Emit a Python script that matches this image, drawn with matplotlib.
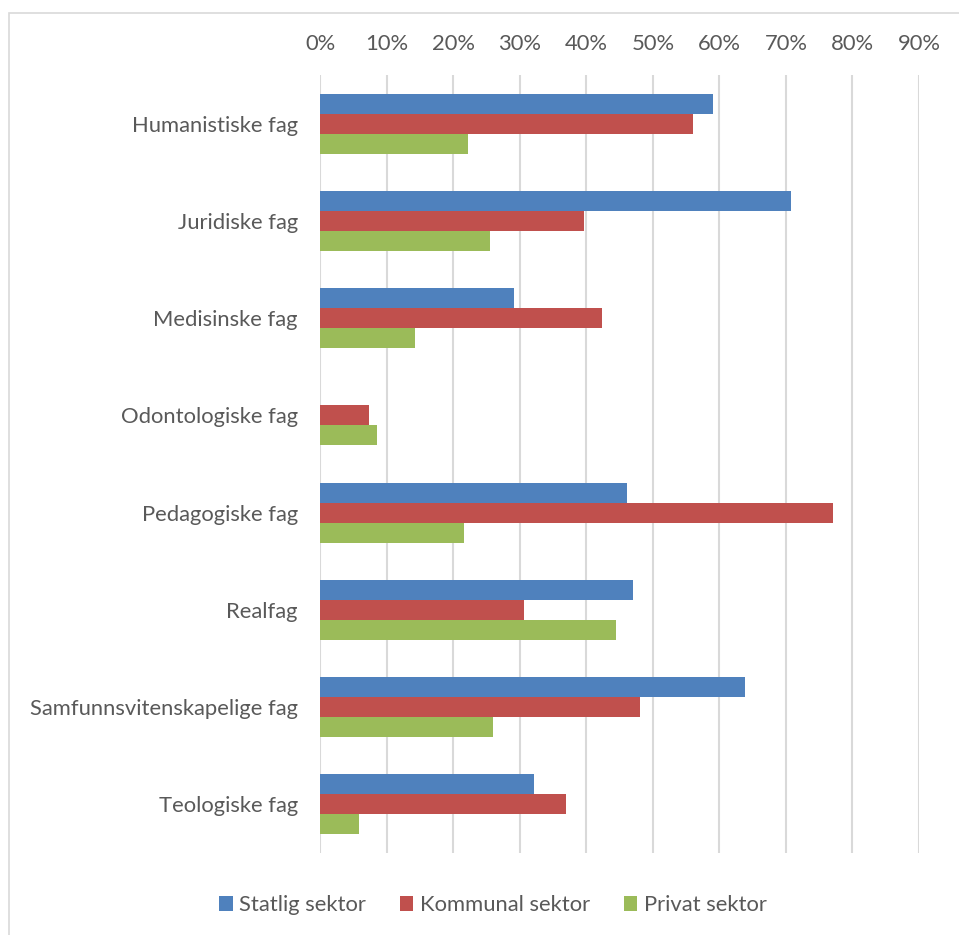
import numpy as np
import matplotlib
matplotlib.use("Agg")
import matplotlib.pyplot as plt
from matplotlib.patches import Patch, Rectangle
from matplotlib.ticker import PercentFormatter

# Andel per fagområde og sektor
CATEGORIES = ["Humanistiske fag", "Juridiske fag", "Medisinske fag",
              "Odontologiske fag", "Pedagogiske fag", "Realfag",
              "Samfunnsvitenskapelige fag", "Teologiske fag"]
STATLIG = [0.591, 0.708, 0.292, 0.0, 0.461, 0.471, 0.639, 0.322]
KOMMUNAL = [0.560, 0.396, 0.423, 0.073, 0.771, 0.307, 0.481, 0.369]
PRIVAT = [0.223, 0.256, 0.143, 0.085, 0.217, 0.444, 0.260, 0.058]
SERIES = ["Statlig sektor", "Kommunal sektor", "Privat sektor"]
COLORS = ["#4F81BD", "#C0504D", "#9BBB59"]

TEXT_COLOR = "#595959"
GRID_COLOR = "#D9D9D9"
FIGSIZE = (9.59, 9.35)
FS = 15.8

plt.rcParams["font.family"] = ["Lato", "DejaVu Sans"]

fig = plt.figure(figsize=FIGSIZE, dpi=100)
W, H = 959, 935
ax = fig.add_axes([320 / W, 1 - 853 / H, (919 - 320) / W, (853 - 75) / H])

# chart frame (top and left edges visible)
fig.patches.append(Rectangle((9 / W, -0.1), 1.2, 1 - 13 / H + 0.1,
                             transform=fig.transFigure, fill=False,
                             edgecolor=GRID_COLOR, linewidth=1.2))

y = np.arange(len(CATEGORIES))
h = 0.206
for i, (vals, col) in enumerate(zip([STATLIG, KOMMUNAL, PRIVAT], COLORS)):
    ax.barh(y + (i - 1) * h, vals, height=h, color=col, zorder=3)

ax.set_xlim(0, 0.9)
ax.set_ylim(len(CATEGORIES) - 0.5, -0.5)
ax.set_xticks(np.arange(0, 0.91, 0.1))
ax.xaxis.set_major_formatter(PercentFormatter(1.0, decimals=0))
ax.xaxis.tick_top()
ax.set_yticks(y)
ax.set_yticklabels(CATEGORIES)
ax.tick_params(axis="x", length=0, pad=15, labelsize=FS, labelcolor=TEXT_COLOR)
ax.tick_params(axis="y", length=0, pad=16, labelsize=FS, labelcolor=TEXT_COLOR)
ax.grid(axis="x", color=GRID_COLOR, linewidth=1.5, zorder=0)
for s in ax.spines.values():
    s.set_visible(False)

handles = [Patch(facecolor=c, label=s) for s, c in zip(SERIES, COLORS)]
leg = fig.legend(handles=handles, loc="center", bbox_to_anchor=(493 / W, 1 - 905 / H),
                 ncol=3, frameon=False, fontsize=FS, handlelength=0.6,
                 handleheight=0.7, handletextpad=0.3, columnspacing=1.55)
for t in leg.get_texts():
    t.set_color(TEXT_COLOR)

fig.savefig("out.png", dpi=100)
